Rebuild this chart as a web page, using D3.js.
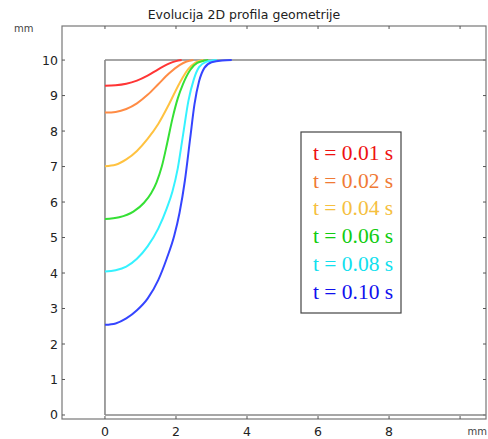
<!DOCTYPE html>
<html>
<head>
<meta charset="utf-8">
<script src="https://cdn.jsdelivr.net/npm/d3@7"></script>
<style>
  html, body { margin: 0; padding: 0; background: #fff; }
  svg { display: block; }
</style>
</head>
<body>
<script>
// ---- data ----
const title = "Evolucija 2D profila geometrije";
const xTicks = [0, 2, 4, 6, 8, 10];
const xTickLabels = ["0", "2", "4", "6", "8", ""];
const yTicks = [0, 1, 2, 3, 4, 5, 6, 7, 8, 9, 10];
const labels = ["t = 0.01 s", "t = 0.02 s", "t = 0.04 s", "t = 0.06 s", "t = 0.08 s", "t = 0.10 s"];
const lineColors = ["#ff3535", "#ff8c45", "#ffc240", "#35e035", "#35f2ff", "#3545ff"];
const textColors = ["#ee1111", "#f07a35", "#f5c040", "#11cc11", "#11e0ee", "#1111ee"];

const t001 = [[0, 9.28], [0.3, 9.29], [0.6, 9.33], [0.9, 9.42], [1.2, 9.56], [1.5, 9.74], [1.8, 9.9], [2.0, 9.97], [2.16, 10]];
const t002 = [[0, 8.52], [0.3, 8.54], [0.6, 8.62], [0.9, 8.78], [1.2, 9.02], [1.5, 9.32], [1.8, 9.62], [2.1, 9.86], [2.3, 9.96], [2.49, 10]];
const t004 = [[0, 7.01], [0.3, 7.05], [0.6, 7.2], [0.9, 7.44], [1.2, 7.78], [1.5, 8.2], [1.8, 8.75], [2.1, 9.35], [2.35, 9.75], [2.55, 9.93], [2.77, 10]];
const t006 = [[0, 5.52], [0.4, 5.57], [0.8, 5.73], [1.1, 5.98], [1.3, 6.25], [1.45, 6.55], [1.6, 7.0], [1.75, 7.65], [1.9, 8.35], [2.05, 8.92], [2.2, 9.33], [2.4, 9.72], [2.6, 9.92], [2.91, 10]];
const t008 = [[0, 4.04], [0.3, 4.08], [0.6, 4.18], [0.9, 4.4], [1.2, 4.75], [1.5, 5.25], [1.74, 5.82], [1.9, 6.3], [2.05, 6.95], [2.2, 7.9], [2.35, 8.85], [2.5, 9.45], [2.65, 9.8], [2.85, 9.95], [3.15, 10]];
const t010 = [[0, 2.54], [0.3, 2.58], [0.6, 2.72], [0.9, 2.95], [1.2, 3.28], [1.5, 3.8], [1.74, 4.41], [1.95, 5.05], [2.1, 5.7], [2.25, 6.6], [2.4, 7.8], [2.52, 8.75], [2.65, 9.4], [2.8, 9.78], [3.0, 9.94], [3.3, 9.99], [3.57, 10]];
const series = [t001, t002, t004, t006, t008, t010];

// ---- layout ----
const W = 488, H = 439;
const frame = { left: 62, right: 486, top: 26, bottom: 419 };
const svg = d3.select("body").append("svg").attr("width", W).attr("height", H);

const x = d3.scaleLinear().domain([-1.21, 10.73]).range([frame.left, frame.right]);
const y = d3.scaleLinear().domain([-0.113, 10.96]).range([frame.bottom, frame.top]);

const font = "DejaVu Sans, sans-serif";

// title
svg.append("text").attr("x", 244).attr("y", 19).attr("text-anchor", "middle")
  .attr("font-family", font).attr("font-size", 12.5).attr("fill", "#222").text(title);

// frame
svg.append("rect").attr("x", frame.left).attr("y", frame.top)
  .attr("width", frame.right - frame.left).attr("height", frame.bottom - frame.top)
  .attr("fill", "none").attr("stroke", "#777").attr("stroke-width", 1.2);

// y ticks & labels
const yt = svg.append("g");
yTicks.forEach(v => {
  yt.append("line").attr("x1", frame.left).attr("x2", frame.left + 3)
    .attr("y1", y(v)).attr("y2", y(v)).attr("stroke", "#555");
  yt.append("line").attr("x1", frame.right).attr("x2", frame.right - 3)
    .attr("y1", y(v)).attr("y2", y(v)).attr("stroke", "#555");
  yt.append("text").attr("x", frame.left - 4).attr("y", y(v) + 4.5)
    .attr("text-anchor", "end").attr("font-family", font).attr("font-size", 12.5)
    .attr("fill", "#222").text(v);
});
// x ticks & labels
xTicks.forEach((v, i) => {
  yt.append("line").attr("x1", x(v)).attr("x2", x(v))
    .attr("y1", frame.bottom).attr("y2", frame.bottom - 3).attr("stroke", "#555");
  yt.append("line").attr("x1", x(v)).attr("x2", x(v))
    .attr("y1", frame.top).attr("y2", frame.top + 3).attr("stroke", "#555");
  yt.append("text").attr("x", x(v)).attr("y", 436)
    .attr("text-anchor", "middle").attr("font-family", font).attr("font-size", 12.5)
    .attr("fill", "#222").text(xTickLabels[i]);
});
// unit labels
svg.append("text").attr("x", 14).attr("y", 32).attr("font-family", font)
  .attr("font-size", 10).attr("fill", "#444").text("mm");
svg.append("text").attr("x", 487).attr("y", 435).attr("text-anchor", "end").attr("font-family", font)
  .attr("font-size", 10).attr("fill", "#444").text("mm");

// geometry boundary
const geom = svg.append("g").attr("stroke", "#888").attr("stroke-width", 1.6).attr("fill", "none");
geom.append("line").attr("x1", x(0)).attr("x2", x(0)).attr("y1", y(0)).attr("y2", y(10));
geom.append("line").attr("x1", x(0)).attr("x2", frame.right).attr("y1", y(10)).attr("y2", y(10));
geom.append("line").attr("x1", x(0)).attr("x2", frame.right).attr("y1", y(0)).attr("y2", y(0));

// curves
const line = d3.line().x(d => x(d[0])).y(d => y(d[1])).curve(d3.curveMonotoneX);
series.forEach((s, i) => {
  svg.append("path").attr("d", line(s)).attr("fill", "none")
    .attr("stroke", lineColors[i]).attr("stroke-width", 2);
});

// legend
const lg = svg.append("g");
lg.append("rect").attr("x", 301).attr("y", 132).attr("width", 100).attr("height", 181)
  .attr("fill", "#fff").attr("stroke", "#444").attr("stroke-width", 1.2);
labels.forEach((l, i) => {
  lg.append("text").attr("x", 313).attr("y", 160 + i * 27.7)
    .attr("font-family", "Liberation Serif, Times New Roman, serif").attr("font-size", 21.5)
    .attr("fill", textColors[i]).text(l);
});
</script>
</body>
</html>
